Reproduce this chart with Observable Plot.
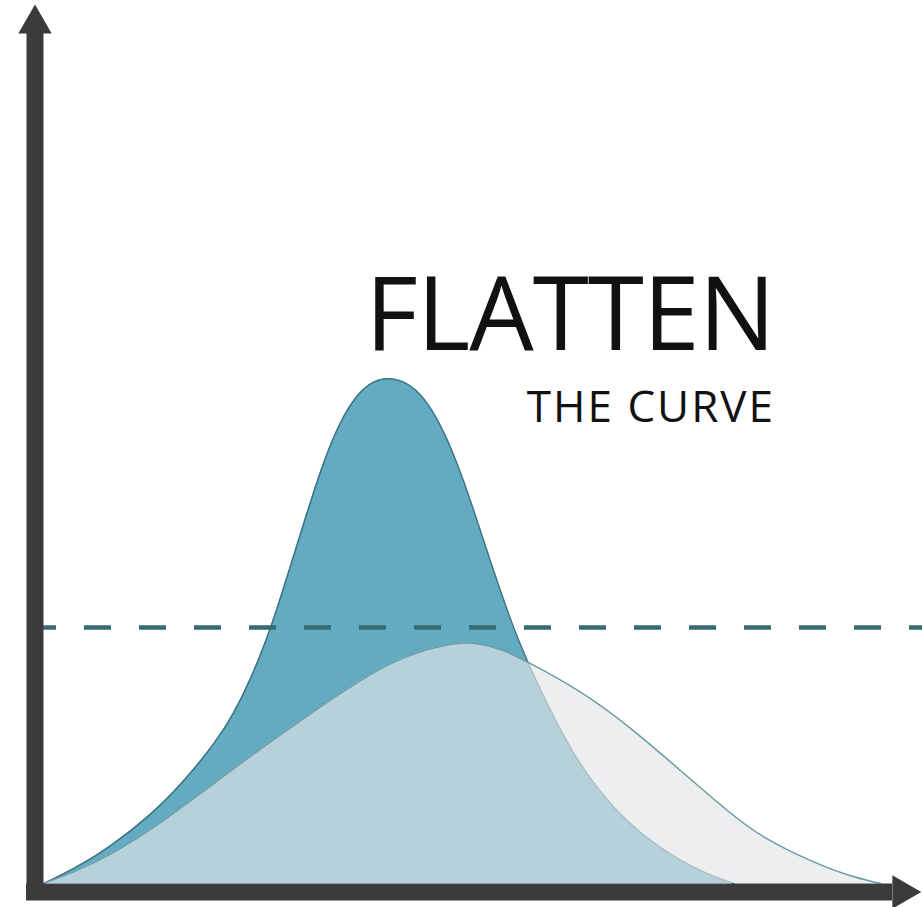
<!DOCTYPE html>
<html>
<head>
<meta charset="utf-8">
<script src="https://cdn.jsdelivr.net/npm/d3@7"></script>
<script src="https://cdn.jsdelivr.net/npm/@observablehq/plot@0.6"></script>
<style>
  html, body { margin: 0; padding: 0; background: #fff; }
  #chart svg { display: block; }
</style>
</head>
<body>
<div id="chart"></div>
<script>
// Tall (unmitigated) curve: x = time, y = cases
const tallX = [0, 3.56, 7.49, 12.59, 16.51, 20.44, 22.39, 24.35, 26.32, 27.68, 29.06, 31.02, 32.98, 34.94, 36.91, 38.86, 40.62, 42.79, 44.74, 46.71, 48.67, 50.62, 52.59, 54.55, 55.73, 57.09, 59.26, 61.21, 63.18, 67.09, 71.02, 74.94, 78.86, 81.21];
const tallY = [0, 2.85, 6.78, 13.41, 20.07, 28.33, 33.6, 40.26, 48.53, 55.33, 62.78, 73.36, 83.6, 91.5, 96.78, 99.41, 100, 99.07, 96.15, 90.83, 83.19, 73.83, 63.59, 53.99, 48.68, 43.24, 35.43, 29.09, 23.28, 14.68, 8.78, 4.4, 1.3, 0];
// Flattened curve
const flatX = [0, 3.53, 7.53, 12.59, 18.47, 24.35, 30.24, 33.41, 37.29, 41.18, 45.18, 49.06, 51.41, 53.76, 57.06, 63.18, 69.06, 74.94, 80.82, 84.71, 90.59, 94.59, 98.47];
const flatY = [0, 2.17, 5.34, 10.47, 17.79, 25.2, 32.21, 35.87, 40.22, 43.87, 46.44, 47.73, 47.37, 46.44, 43.74, 38.14, 30.89, 22.33, 13.77, 8.89, 4.15, 1.58, 0];
// Capacity threshold
const capacity = [50.6];
const titleText = ["FLATTEN"];
const subtitleText = ["THE CURVE"];

const tall = tallX.map((x, i) => ({x, y: tallY[i]}));
const flat = flatX.map((x, i) => ({x, y: flatY[i]}));

const axisColor = "#3b3b3d";

const chart = Plot.plot({
  width: 922,
  height: 907,
  margin: 0,
  x: {domain: [0, 100], range: [43, 893], axis: null},
  y: {domain: [0, 100], range: [883, 377], axis: null},
  style: {background: "#fff", overflow: "visible"},
  marks: [
    Plot.areaY(tall, {x: "x", y: "y", curve: "basis", fill: "#63abc0"}),
    Plot.lineY(tall, {x: "x", y: "y", curve: "basis", stroke: "#3e7584", strokeWidth: 1.5}),
    Plot.areaY(flat, {x: "x", y: "y", curve: "basis", fill: "#e2e5e8", fillOpacity: 0.66}),
    Plot.lineY(flat, {x: "x", y: "y", curve: "basis", stroke: "#6b9ca7", strokeWidth: 1.5}),
    Plot.ruleY(capacity, {x1: -1.65, x2: 104, stroke: "#386a74", strokeWidth: 4.5, strokeDasharray: "27,28"}),
    // axes drawn as thick arrows
    Plot.ruleX([-1], {y1: -3.36, y2: 168.2, stroke: axisColor, strokeWidth: 17}),
    Plot.ruleY([-1.68], {x1: -2, x2: 99.9, stroke: axisColor, strokeWidth: 17}),
    Plot.dot([{x: -1, y: 169.9}], {x: "x", y: "y", symbol: "triangle", r: 12.4, fill: axisColor, stroke: "none"}),
    Plot.dot([{x: 101.0, y: -1.68}], {x: "x", y: "y", symbol: "triangle", r: 12.4, rotate: 90, fill: axisColor, stroke: "none"}),
    Plot.text(titleText, {x: 86.0, y: 105.5, text: d => d, textAnchor: "end", lineAnchor: "bottom", fontSize: 102, fontFamily: "Open Sans", fill: "#111"}),
    Plot.text(subtitleText, {x: 86.06, y: 91.3, text: d => d, textAnchor: "end", lineAnchor: "bottom", fontSize: 44, fontFamily: "Open Sans", fill: "#111"})
  ]
});
document.getElementById("chart").appendChild(chart);
// letter spacing for the headings
chart.querySelectorAll("text").forEach(t => {
  if (t.textContent === "FLATTEN") t.setAttribute("letter-spacing", "-1");
  if (t.textContent === "THE CURVE") t.setAttribute("letter-spacing", "2");
});
</script>
</body>
</html>
